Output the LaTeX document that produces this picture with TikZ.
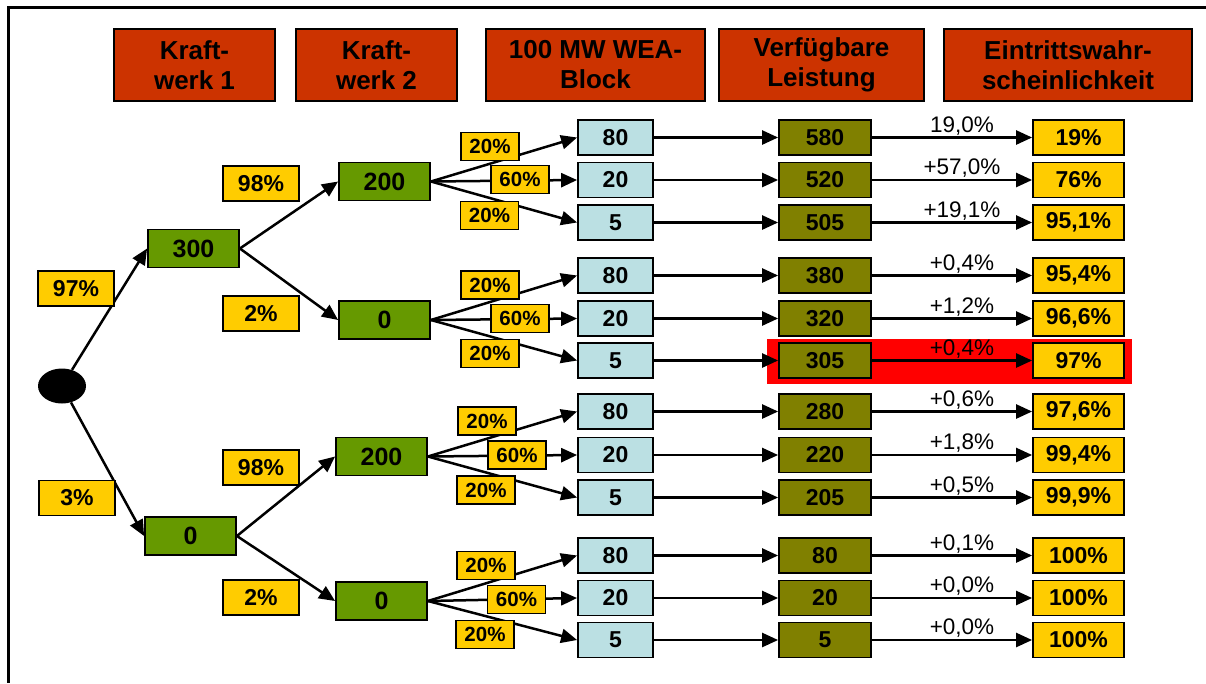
\documentclass[tikz,border=0pt]{standalone}
\usepackage{fontspec}
\setmainfont{Liberation Sans}
\usetikzlibrary{arrows.meta,shapes.geometric}
\definecolor{hdr}{HTML}{CC3300}
\definecolor{kwg}{HTML}{669900}
\definecolor{lbl}{HTML}{FFCC00}
\definecolor{wea}{HTML}{BBE0E3}
\definecolor{olv}{HTML}{808000}
\begin{document}
\begin{tikzpicture}[x=1pt,y=-1pt,
 box/.style={draw=black, line width=1.8pt, inner sep=0pt, font=\bfseries\fontsize{23}{27}\selectfont},
 hdrbox/.style={box, fill=hdr, minimum height=72pt, align=center, font=\bfseries\fontsize{26}{30}\selectfont},
 kw/.style={box, fill=kwg, minimum width=91pt, minimum height=38pt, font=\bfseries\fontsize{25}{30}\selectfont},
 plab/.style={box, fill=lbl, minimum width=76pt, minimum height=35pt},
 slab/.style={box, fill=lbl, minimum width=58pt, minimum height=28pt, font=\bfseries\fontsize{20.5}{24}\selectfont},
 weab/.style={box, fill=wea, minimum width=75pt, minimum height=35pt},
 verf/.style={box, fill=olv, minimum width=92pt, minimum height=35pt},
 eint/.style={box, fill=lbl, minimum width=91pt, minimum height=35pt},
 arr/.style={line width=2.5pt, -{Triangle[length=16pt,width=14pt]}},
 inc/.style={anchor=base, font=\fontsize{22.5}{27}\selectfont, inner sep=0pt},
]
\useasboundingbox (0,0) rectangle (1206,683);
\fill[white] (0,0) rectangle (1206,683);
% frame
\draw[line width=2.2pt] (1206,7.5) -- (8.5,7.5) -- (8.5,683);

% headers
\node[hdrbox, minimum width=161pt] (h1) at (194.5,65) {Kraft-\\werk 1};
\node[hdrbox, minimum width=161pt] (h2) at (376.5,65) {Kraft-\\werk 2};
\node[hdrbox, minimum width=219pt] (h3) at (595.5,65) {100 MW WEA-\\Block};
\node[hdrbox, minimum width=205pt] (h4) at (821.5,65) {Verfügbare\\Leistung};
\node[hdrbox, minimum width=248pt] (h5) at (1068,65) {Eintrittswahr-\\scheinlichkeit};

% highlight
\node[fill=red, minimum width=365pt, minimum height=45pt, inner sep=0pt] (hl) at (949.5,361.5) {};

% root and power plant nodes
\node[ellipse, fill=black, minimum width=48pt, minimum height=35pt, inner sep=0pt] (root) at (62,386) {};
\node[kw] (k1a) at (193.5,248.5) {300};
\node[kw] (k1b) at (190.5,536) {0};
\node[kw] (k2a) at (384.5,181.5) {200};
\node[kw] (k2b) at (384.5,320) {0};
\node[kw] (k2c) at (381.5,456.5) {200};
\node[kw] (k2d) at (381.5,601) {0};

% rows
\foreach \i/\y/\w/\v/\e/\p in {
 1/137.5/80/580/19\%/{19,0\%},
 2/180/20/520/76\%/{+57,0\%},
 3/222.5/5/505/{95,1\%}/{+19,1\%},
 4/275.5/80/380/{95,4\%}/{+0,4\%},
 5/318.5/20/320/{96,6\%}/{+1,2\%},
 6/360.5/5/305/97\%/{+0,4\%},
 7/411.5/80/280/{97,6\%}/{+0,6\%},
 8/455/20/220/{99,4\%}/{+1,8\%},
 9/497.5/5/205/{99,9\%}/{+0,5\%},
 10/555.5/80/80/100\%/{+0,1\%},
 11/598/20/20/100\%/{+0,0\%},
 12/640/5/5/100\%/{+0,0\%}}{
 \node[weab] (w\i) at (615.5,\y) {\w};
 \node[verf] (v\i) at (825,\y) {\v};
 \node[eint] (e\i) at (1078.5,\y) {\e};
 \draw[arr] (w\i) -- (v\i);
 \draw[arr] (v\i) -- (e\i);
 \node[inc] (t\i) at (962,\y-5.5) {\p};
}

% tree edges
\draw[arr] (root) -- (k1a.west);
\draw[arr] (root) -- (k1b.west);
\draw[arr] (k1a.east) -- (k2a.west);
\draw[arr] (k1a.east) -- (k2b.west);
\draw[arr] (k1b.east) -- (k2c.west);
\draw[arr] (k1b.east) -- (k2d.west);
\foreach \k/\a/\b/\c in {k2a/1/2/3, k2b/4/5/6, k2c/7/8/9, k2d/10/11/12}{
 \draw[arr] (\k.east) -- (w\a.west);
 \draw[arr] (\k.east) -- (w\b.west);
 \draw[arr] (\k.east) -- (w\c.west);
}

% probability labels
\node[plab] (p97) at (76,288.5) {97\%};
\node[plab] (p3) at (77,498) {3\%};
\node[plab] (p98a) at (261,183.5) {98\%};
\node[plab] (p2a) at (261,313.5) {2\%};
\node[plab] (p98b) at (261,467.5) {98\%};
\node[plab] (p2b) at (261,597.5) {2\%};

\node[slab] (s1) at (490,146.5) {20\%};
\node[slab] (s2) at (520,179.5) {60\%};
\node[slab] (s3) at (489.5,215.5) {20\%};
\node[slab] (s4) at (490,285) {20\%};
\node[slab] (s5) at (520,318.5) {60\%};
\node[slab] (s6) at (490,353.5) {20\%};
\node[slab] (s7) at (487,421) {20\%};
\node[slab] (s8) at (517,455) {60\%};
\node[slab] (s9) at (486,490) {20\%};
\node[slab] (s10) at (486,565.5) {20\%};
\node[slab] (s11) at (516.5,599.5) {60\%};
\node[slab] (s12) at (485,634.5) {20\%};
\end{tikzpicture}
\end{document}
